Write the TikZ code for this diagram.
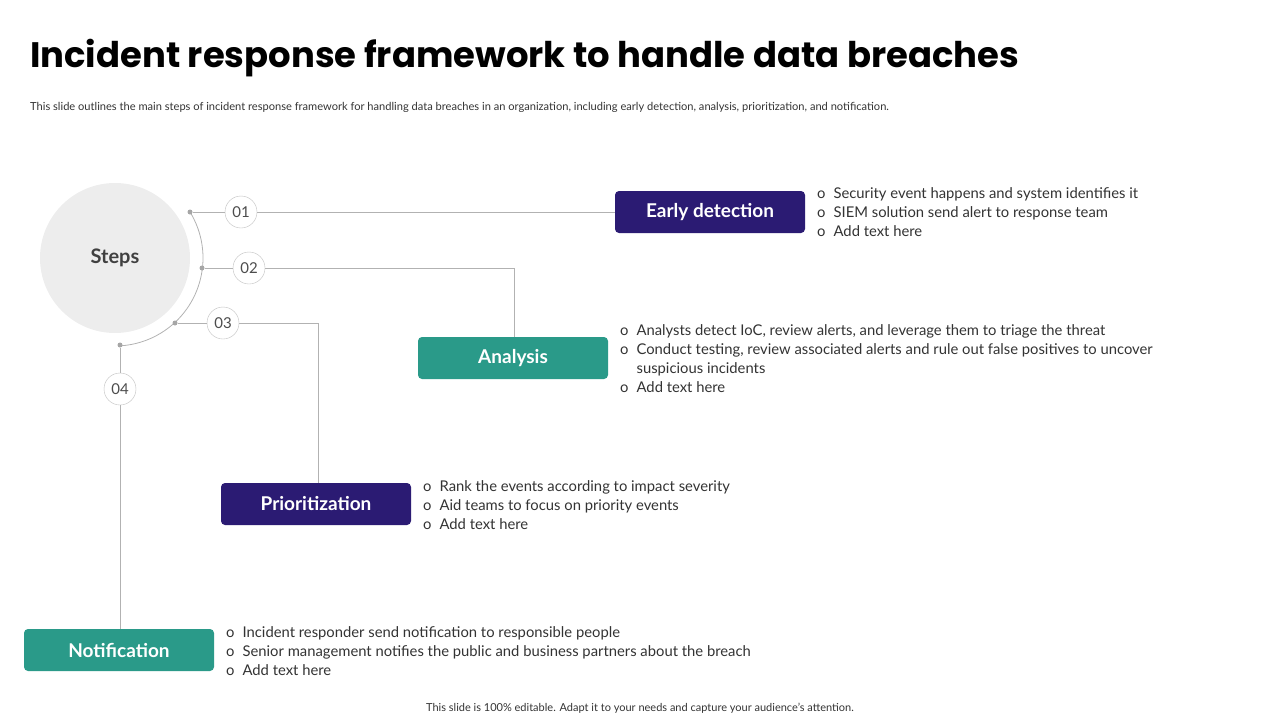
\documentclass[tikz,border=0pt]{standalone}
\usepackage{fontspec}
\setmainfont{Lato}
\newfontfamily\titlefont{Poppins}
\begin{document}
\begin{tikzpicture}[x=1pt,y=-1pt,
 ln/.style={draw=black!30,line width=0.8pt},
 num/.style={circle,draw=black!25,fill=white,minimum size=32pt,inner sep=0pt,font=\fontsize{15}{15}\selectfont,text=black!70},
 box/.style={rounded corners=4pt,minimum width=190pt,minimum height=42pt,text=white,font=\fontsize{19}{19}\selectfont\bfseries},
 txt/.style={anchor=north west,align=left,font=\fontsize{14.8}{19}\selectfont,text=black!80,inner sep=0pt},
 dot/.style={circle,fill=black!35,inner sep=0pt,minimum size=5pt}]
\definecolor{navy}{HTML}{2B1B73}
\definecolor{teal}{HTML}{2A9A89}
\useasboundingbox (0,0) rectangle (1280,720);
\node[anchor=west,font=\titlefont\fontsize{35.4}{35}\selectfont\bfseries,inner sep=0pt] (title) at (30,58) {Incident response framework to handle data breaches};
\node[anchor=west,font=\fontsize{11.1}{11}\selectfont,text=black!80,inner sep=0pt] (sub) at (30,107) {This slide outlines the main steps of incident response framework for handling data breaches in an organization, including early detection, analysis, prioritization, and notification.};
\node[circle,fill=black!7,minimum size=150pt,font=\fontsize{20}{20}\selectfont\bfseries,text=black!75] (steps) at (115,258) {Steps};
\draw[ln] (115,258) ++(-31.5:88) arc[start angle=-31.5,end angle=86.7,radius=88];
\node[dot] (d1) at (190,212) {};
\node[dot] (d2) at (202,268) {};
\node[dot] (d3) at (175,323) {};
\node[dot] (d4) at (120,345) {};
\node[box,fill=navy] (b1) at (710,212) {Early detection};
\node[box,fill=teal] (b2) at (513,358) {Analysis};
\node[box,fill=navy] (b3) at (316,504) {Prioritization};
\node[box,fill=teal] (b4) at (119,650) {Notification};
\coordinate (c2) at (514,268);
\coordinate (c3) at (318,323);
\draw[ln] (d1) -- (b1.west);
\draw[ln] (d2) -- (c2) -- (c2 |- b2.north);
\draw[ln] (d3) -- (c3) -- (c3 |- b3.north);
\draw[ln] (d4) -- (d4 |- b4.north);
\node[num] (n1) at (241,212) {01};
\node[num] (n2) at (249,268) {02};
\node[num] (n3) at (223,323) {03};
\node[num] (n4) at (120,389) {04};
\node[txt] (t1) at (817,185) {\begin{tabular}{@{}l@{\hspace{8pt}}l@{}}o&Security event happens and system identifies it\\o&SIEM solution send alert to response team\\o&Add text here\end{tabular}};
\node[txt] (t2) at (620,322) {\begin{tabular}{@{}l@{\hspace{8pt}}l@{}}o&Analysts detect IoC, review alerts, and leverage them to triage the threat\\o&Conduct testing, review associated alerts and rule out false positives to uncover\\&suspicious incidents\\o&Add text here\end{tabular}};
\node[txt] (t3) at (423,478) {\begin{tabular}{@{}l@{\hspace{8pt}}l@{}}o&Rank the events according to impact severity\\o&Aid teams to focus on priority events\\o&Add text here\end{tabular}};
\node[txt] (t4) at (226,624) {\begin{tabular}{@{}l@{\hspace{8pt}}l@{}}o&Incident responder send notification to responsible people\\o&Senior management notifies the public and business partners about the breach\\o&Add text here\end{tabular}};
\node[font=\fontsize{11}{11}\selectfont,text=black!80] (foot) at (640,708) {This slide is 100\% editable. Adapt it to your needs and capture your audience's attention.};
\end{tikzpicture}
\end{document}
